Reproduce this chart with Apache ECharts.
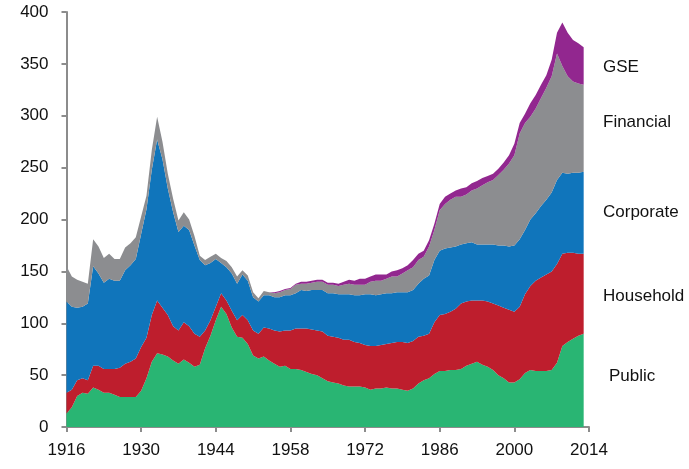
<!DOCTYPE html>
<html>
<head>
<meta charset="utf-8">
<script src="https://cdn.jsdelivr.net/npm/echarts@6/dist/echarts.min.js"></script>
<style>
html,body{margin:0;padding:0;background:#fff;}
#chart{width:689px;height:469px;}
</style>
</head>
<body>
<div id="chart"></div>
<script>
// Years on the x axis (category), ticks every 14 years
var years = [];
for (var yr = 1916; yr <= 2014; yr++) years.push(String(yr));

var seriesNames = ['Public', 'Household', 'Corporate', 'Financial', 'GSE'];

// Values, 1916..2013 (annual)
var publicDebt = [13,19,30,33,32,38,36,33,33,31,29,29,29,29,35,47,63,71,70,68,64,61,65,62,58,60,76,88,103,116,109,96,87,86,80,69,66,68,64,61,58,59,56,56,55,53,51,50,47,44,43,42,40,39,39,39,38,36,37,37,38,37,37,36,35,37,42,45,47,51,54,54,55,55,56,59,61,63,60,58,55,50,47,43,43,46,52,55,54,54,54,55,62,78,82,85,88,90];
var householdDebt = [20,17,15,14,13,21,23,23,23,25,28,32,34,37,42,39,45,51,45,40,33,32,36,35,32,27,17,15,13,13,13,16,16,22,23,24,24,28,31,32,34,34,37,39,40,42,43,43,45,44,44,44,44,45,43,42,41,42,41,42,42,44,45,46,46,46,45,43,43,50,54,55,56,59,63,62,61,59,62,63,64,67,68,70,68,70,76,81,87,90,93,95,95,89,86,83,79,77];
var corporateDebt = [88,80,70,69,74,96,89,83,87,85,84,90,93,96,109,124,140,155,143,122,110,95,93,93,85,74,63,55,46,29,32,36,35,39,38,32,31,31,32,32,33,34,34,34,37,36,38,39,40,41,42,42,44,44,45,46,49,50,49,49,49,48,48,48,49,49,51,55,56,60,62,63,62,60,57,56,56,54,54,55,57,58,60,61,64,65,62,64,65,69,72,76,81,78,76,77,78,79];
var financialDebt = [34,29,27,24,19,26,26,24,24,21,21,22,21,21,17,13,19,22,17,14,13,11,13,10,9,4,5,6,5,5,6,6,7,4,5,5,3,4,3,4,5,5,6,8,6,7,7,8,8,8,8,8,9,10,10,10,9,12,14,13,14,16,15,18,21,22,23,21,28,29,39,43,46,48,46,47,50,54,57,60,62,68,73,80,87,102,103,99,101,104,108,112,122,103,94,88,86,84];
var gseDebt = [0,0,0,0,0,0,0,0,0,0,0,0,0,0,0,0,0,0,0,0,0,0,0,0,0,0,0,0,0,0,0,0,0,0,0,0,0,0,0,1,1,1,1,1,2,2,2,2,2,2,2,2,3,4,4,6,6,5,6,6,4,5,6,5,5,7,6,6,6,6,6,7,6,6,8,7,7,7,7,6,6,6,7,8,11,10,9,13,13,13,12,16,20,42,42,40,39,36];

var yTicks = [0, 50, 100, 150, 200, 250, 300, 350, 400];

var colors = ['#29B573', '#BE1E2D', '#1075BB', '#8C8D90', '#92278F'];
var dataSets = [publicDebt, householdDebt, corporateDebt, financialDebt, gseDebt];

var labelFont = '17px "Liberation Sans", Arial, sans-serif';
var sideLabels = [
  {text: 'GSE', x: 603, y: 67},
  {text: 'Financial', x: 603, y: 122},
  {text: 'Corporate', x: 603, y: 212},
  {text: 'Household', x: 603, y: 296},
  {text: 'Public', x: 609, y: 376}
];

var chart = echarts.init(document.getElementById('chart'), null, {renderer: 'canvas'});

var series = seriesNames.map(function (name, i) {
  return {
    name: name,
    type: 'line',
    stack: 'total',
    data: dataSets[i],
    showSymbol: false,
    symbol: 'none',
    lineStyle: {width: 0},
    areaStyle: {color: colors[i], opacity: 1},
    itemStyle: {color: colors[i]},
    z: 2 + i,
    silent: true,
    animation: false
  };
});

chart.setOption({
  animation: false,
  backgroundColor: '#fff',
  grid: {left: 66.5, right: 100, top: 12, bottom: 42, containLabel: false},
  xAxis: {
    type: 'category',
    data: years,
    boundaryGap: false,
    axisLine: {show: true, lineStyle: {color: '#8c8c8c', width: 2}},
    axisTick: {show: true, interval: 13, length: 5, lineStyle: {color: '#8c8c8c', width: 2}},
    axisLabel: {interval: 13, margin: 15, color: '#111', fontSize: 17, fontFamily: '"Liberation Sans", Arial, sans-serif'},
    splitLine: {show: false}
  },
  yAxis: {
    type: 'value',
    min: yTicks[0],
    max: yTicks[yTicks.length - 1],
    interval: yTicks[1] - yTicks[0],
    axisLine: {show: true, lineStyle: {color: '#8c8c8c', width: 2}},
    axisTick: {show: true, length: 5, lineStyle: {color: '#8c8c8c', width: 2}},
    axisLabel: {margin: 18, color: '#111', fontSize: 17, fontFamily: '"Liberation Sans", Arial, sans-serif'},
    splitLine: {show: false}
  },
  series: series,
  graphic: sideLabels.map(function (l) {
    return {
      type: 'text',
      x: l.x,
      y: l.y,
      style: {text: l.text, fill: '#111', font: labelFont, verticalAlign: 'middle', align: 'left'}
    };
  })
});
</script>
</body>
</html>
